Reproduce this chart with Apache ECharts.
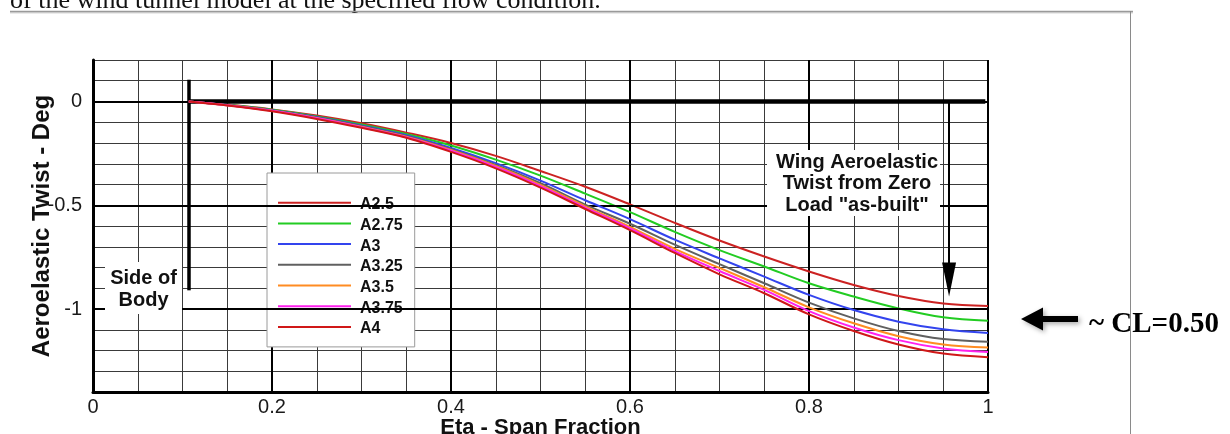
<!DOCTYPE html>
<html>
<head>
<meta charset="utf-8">
<script src="https://cdn.jsdelivr.net/npm/echarts@6/dist/echarts.min.js"></script>
<style>
  html, body { margin: 0; padding: 0; background: #ffffff; }
  #chart { width: 1230px; height: 434px; }
</style>
</head>
<body>
<div id="chart"></div>
<script>
// Span stations (fraction of semi-span) where the twist curves are sampled
const eta = [0.107, 0.15, 0.2, 0.25, 0.3, 0.35, 0.4, 0.45, 0.5, 0.55, 0.6, 0.65, 0.7, 0.75, 0.8, 0.85, 0.9, 0.95, 1.0];

// Aeroelastic twist (deg) for each run
const twistA2_5  = [0, -0.015, -0.038, -0.068, -0.105, -0.150, -0.200, -0.262, -0.335, -0.411, -0.496, -0.585, -0.670, -0.747, -0.819, -0.884, -0.937, -0.973, -0.985];
const twistA2_75 = [0, -0.016, -0.040, -0.072, -0.111, -0.157, -0.212, -0.280, -0.357, -0.444, -0.533, -0.628, -0.716, -0.795, -0.876, -0.940, -0.997, -1.040, -1.057];
const twistA3    = [0, -0.017, -0.042, -0.075, -0.116, -0.163, -0.224, -0.297, -0.381, -0.476, -0.567, -0.666, -0.756, -0.844, -0.932, -1.005, -1.061, -1.098, -1.116];
const twistA3_25 = [0, -0.017, -0.043, -0.077, -0.119, -0.167, -0.230, -0.306, -0.394, -0.497, -0.589, -0.690, -0.784, -0.876, -0.969, -1.045, -1.106, -1.145, -1.158];
const twistA3_5  = [0, -0.018, -0.044, -0.079, -0.122, -0.170, -0.234, -0.311, -0.402, -0.505, -0.604, -0.710, -0.802, -0.895, -0.992, -1.069, -1.131, -1.171, -1.186];
const twistA3_75 = [0, -0.018, -0.045, -0.081, -0.124, -0.172, -0.237, -0.315, -0.408, -0.511, -0.612, -0.721, -0.817, -0.908, -1.010, -1.089, -1.150, -1.190, -1.207];
const twistA4    = [0, -0.019, -0.047, -0.084, -0.127, -0.175, -0.243, -0.322, -0.415, -0.518, -0.620, -0.730, -0.833, -0.924, -1.026, -1.106, -1.171, -1.215, -1.232];

const runNames = ['A2.5', 'A2.75', 'A3', 'A3.25', 'A3.5', 'A3.75', 'A4'];
const runValues = [twistA2_5, twistA2_75, twistA3, twistA3_25, twistA3_5, twistA3_75, twistA4];

// Tick labels
const xTickValues = [0, 0.2, 0.4, 0.6, 0.8, 1];
const xTickLabels = ['0', '0.2', '0.4', '0.6', '0.8', '1'];
const yTickValues = [0, -0.5, -1];
const yTickLabels = ['0', '-0.5', '-1'];

// Reference lines: root of the wing and the zero-load ("as-built") line
const sideOfBodyEta = 0.107;
const asBuiltEnd = 0.997;
const arrowEta = 0.9565;

const palette = ['#cc2222', '#22cc22', '#3344ee', '#606060', '#ff8c22', '#ff22ee', '#d01818'];
const SANS = '"Liberation Sans", Arial, sans-serif';
const SERIF = '"Liberation Serif", "Times New Roman", serif';

function labelFor(values, labels, v) {
  for (let i = 0; i < values.length; i++) {
    if (Math.abs(values[i] - v) < 1e-6) return labels[i];
  }
  return '';
}

const curveSeries = runNames.map((name, i) => ({
  name: name,
  type: 'line',
  xAxisIndex: 1,
  yAxisIndex: 0,
  data: eta.map((x, j) => [x, runValues[i][j]]),
  smooth: 0.35,
  symbol: 'none',
  showSymbol: false,
  lineStyle: { color: palette[i], width: 2 },
  itemStyle: { color: palette[i] },
  z: 3 + i,
  silent: true
}));

// Heavy reference lines drawn in data coordinates
const referenceSeries = {
  name: 'reference',
  type: 'line',
  xAxisIndex: 1,
  yAxisIndex: 0,
  data: [],
  symbol: 'none',
  silent: true,
  z: 2,
  markLine: {
    silent: true,
    animation: false,
    symbol: ['none', 'none'],
    label: { show: false },
    emphasis: { disabled: true },
    data: [
      { yAxis: 0, lineStyle: { color: '#000', width: 2, type: 'solid' } },
      { yAxis: -0.5, lineStyle: { color: '#000', width: 2, type: 'solid' } },
      { yAxis: -1, lineStyle: { color: '#000', width: 2, type: 'solid' } },
      [
        { coord: [sideOfBodyEta, 0], lineStyle: { color: '#000', width: 4.5, type: 'solid' } },
        { coord: [asBuiltEnd, 0] }
      ],
      [
        { coord: [sideOfBodyEta, 0.105], lineStyle: { color: '#000', width: 3.5, type: 'solid' } },
        { coord: [sideOfBodyEta, -0.91] }
      ],
      [
        { coord: [arrowEta, 0], symbol: 'none', lineStyle: { color: '#000', width: 2, type: 'solid' } },
        { coord: [arrowEta, -0.858], symbol: 'triangle', symbolSize: [14, 34] }
      ]
    ]
  }
};

const chart = echarts.init(document.getElementById('chart'), null, { renderer: 'canvas' });

chart.setOption({
  animation: false,
  backgroundColor: '#ffffff',
  grid: { left: 93, right: 242, top: 60, bottom: 42, outerBoundsMode: 'none', containLabel: false },
  legend: {
    data: runNames,
    orient: 'vertical',
    left: 267,
    top: 173,
    padding: [19.7, 12, 10, 11],
    icon: 'rect',
    itemWidth: 73,
    itemHeight: 2,
    itemGap: 0.7,
    backgroundColor: '#ffffff',
    borderColor: '#9a9a9a',
    borderWidth: 1,
    selectedMode: false,
    formatter: name => '{t|' + name + '}',
    textStyle: {
      fontFamily: SANS, fontWeight: 'bold', fontSize: 16, color: '#111',
      rich: {
        t: { fontFamily: SANS, fontWeight: 'bold', fontSize: 16, color: '#111', lineHeight: 16, padding: [4, 0, 0, 4] }
      }
    }
  },
  xAxis: [
    {
      // fine grid every 0.05
      type: 'value', position: 'bottom', min: 0, max: 1, interval: 0.05,
      axisLine: { show: false }, axisTick: { show: false }, axisLabel: { show: false },
      splitLine: { show: true, lineStyle: { color: '#3a3a3a', width: 1 } }
    },
    {
      // major grid, labels and title
      type: 'value', position: 'bottom', min: 0, max: 1, interval: 0.2,
      axisLine: { show: true, onZero: false, lineStyle: { color: '#000', width: 3 } },
      axisTick: { show: false },
      axisLabel: {
        show: true, margin: 5,
        fontFamily: SANS, fontSize: 20, color: '#1a1a1a',
        formatter: v => labelFor(xTickValues, xTickLabels, v)
      },
      splitLine: { show: true, lineStyle: { color: '#000', width: 2 } },
      name: 'Eta - Span Fraction',
      nameLocation: 'middle',
      nameGap: 25,
      nameMoveOverlap: false,
      nameTextStyle: { fontFamily: SANS, fontWeight: 'bold', fontSize: 22, color: '#111' }
    }
  ],
  yAxis: [
    {
      type: 'value', min: -1.4, max: 0.2, interval: 0.1,
      axisLine: { show: true, onZero: false, lineStyle: { color: '#000', width: 3 } },
      axisTick: { show: false },
      axisLabel: {
        show: true, margin: 11,
        fontFamily: SANS, fontSize: 20, color: '#1a1a1a',
        formatter: v => labelFor(yTickValues, yTickLabels, v)
      },
      splitLine: { show: true, lineStyle: { color: '#3a3a3a', width: 1 } },
      name: 'Aeroelastic Twist - Deg',
      nameLocation: 'middle',
      nameRotate: 90,
      nameGap: 39,
      nameMoveOverlap: false,
      nameTextStyle: { fontFamily: SANS, fontWeight: 'bold', fontSize: 24, color: '#111' }
    }
  ],
  series: [referenceSeries].concat(curveSeries),
  graphic: [
    // page text above the figure
    {
      type: 'text', left: 10, top: -12, z: 50, silent: true,
      style: { text: 'of the wind tunnel model at the specified flow condition.', font: '26px ' + SERIF, fill: '#111' }
    },
    { type: 'rect', silent: true, z: 49, shape: { x: 10, y: 12, width: 1123, height: 1.5 }, style: { fill: '#d8d8d8' } },
    { type: 'line', silent: true, z: 50, shape: { x1: 10, y1: 11.5, x2: 1133, y2: 11.5 }, style: { stroke: '#9a9a9a', lineWidth: 1.5 } },
    { type: 'line', silent: true, z: 50, shape: { x1: 1130.5, y1: 11, x2: 1130.5, y2: 434 }, style: { stroke: '#8a8a8a', lineWidth: 1 } },

    // "Side of Body" note
    { type: 'rect', silent: true, z: 60, shape: { x: 105, y: 262, width: 77, height: 52 }, style: { fill: '#ffffff' } },
    {
      type: 'text', silent: true, z: 61, x: 143.5, y: 289,
      style: { text: 'Side of\nBody', font: 'bold 20px ' + SANS, fill: '#111', textAlign: 'center', textVerticalAlign: 'middle', lineHeight: 22 }
    },

    // as-built note
    { type: 'rect', silent: true, z: 60, shape: { x: 767, y: 150, width: 173, height: 66 }, style: { fill: '#ffffff' } },
    {
      type: 'text', silent: true, z: 61, x: 857, y: 183.5,
      style: { text: 'Wing Aeroelastic\nTwist from Zero\nLoad "as-built"', font: 'bold 20px ' + SANS, fill: '#111', textAlign: 'center', textVerticalAlign: 'middle', lineHeight: 21.5 }
    },

    // lift coefficient callout
    {
      type: 'polygon', silent: true, z: 60,
      shape: { points: [[1021, 319], [1043, 307.5], [1043, 316], [1078, 316], [1078, 322], [1043, 322], [1043, 330.5]] },
      style: { fill: '#000', shadowBlur: 5, shadowColor: 'rgba(0,0,0,0.35)', shadowOffsetX: 2, shadowOffsetY: 2 }
    },
    {
      type: 'text', silent: true, z: 61, x: 1089, y: 325,
      style: { text: '~ CL=0.50', font: 'bold 29px ' + SERIF, fill: '#000', textAlign: 'left', textVerticalAlign: 'middle' }
    }
  ]
});
</script>
</body>
</html>
